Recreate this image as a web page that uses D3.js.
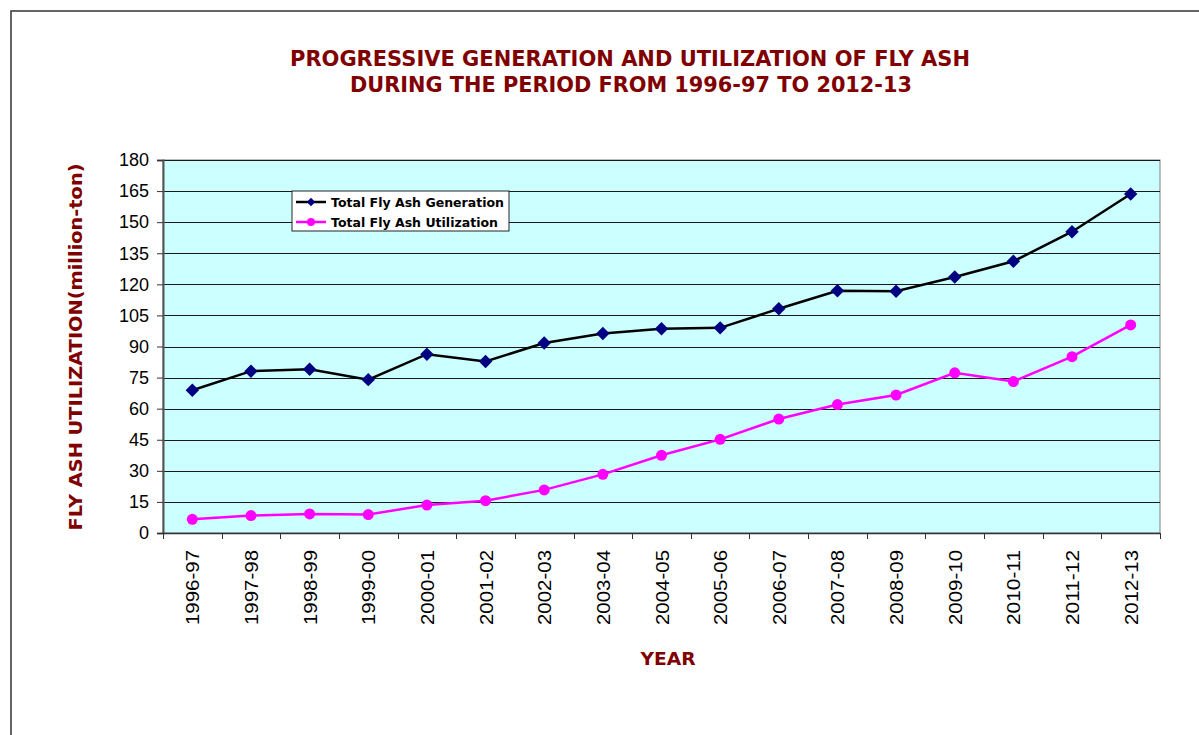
<!DOCTYPE html>
<html>
<head>
<meta charset="utf-8">
<script src="https://cdn.jsdelivr.net/npm/d3@7"></script>
<style>
  body { margin: 0; background: #fff; }
  svg { display: block; }
</style>
</head>
<body>
<svg id="chart" width="1199" height="735"></svg>
<script>
// data
const years = ['1996-97','1997-98','1998-99','1999-00','2000-01','2001-02','2002-03','2003-04',
  '2004-05','2005-06','2006-07','2007-08','2008-09','2009-10','2010-11','2011-12','2012-13'];
const generation = [68.9, 78.1, 79.0, 74.0, 86.3, 82.8, 91.7, 96.3, 98.6, 99.0, 108.2, 116.9, 116.7, 123.5, 131.1, 145.4, 163.6];
const utilization = [6.6, 8.4, 9.2, 8.9, 13.5, 15.6, 20.8, 28.3, 37.5, 45.2, 55.0, 62.0, 66.6, 77.3, 73.1, 85.1, 100.4];
const yTicks = [0, 15, 30, 45, 60, 75, 90, 105, 120, 135, 150, 165, 180];

const svg = d3.select('#chart');
const pLeft = 163, pRight = 1160, pTop = 160, pBottom = 533;
const darkRed = '#800000';

// outer frame
svg.append('path')
  .attr('d', 'M11,735 L11,11 L1199,11')
  .attr('fill', 'none').attr('stroke', '#333').attr('stroke-width', 1.5);

// title
const title = svg.append('text')
  .attr('text-anchor', 'middle')
  .attr('font-family', 'DejaVu Sans')
  .attr('font-weight', 'bold')
  .attr('font-size', 21)
  .attr('fill', darkRed);
title.append('tspan').attr('x', 630).attr('y', 66)
  .attr('textLength', 680).attr('lengthAdjust', 'spacingAndGlyphs')
  .text('PROGRESSIVE GENERATION AND UTILIZATION OF FLY ASH');
title.append('tspan').attr('x', 631).attr('y', 92)
  .attr('textLength', 562).attr('lengthAdjust', 'spacingAndGlyphs')
  .text('DURING THE PERIOD FROM 1996-97 TO 2012-13');

const x = d3.scaleBand().domain(years).range([pLeft, pRight]);
const y = d3.scaleLinear().domain([0, 180]).range([pBottom, pTop]);

// plot background
svg.append('rect')
  .attr('x', pLeft).attr('y', pTop)
  .attr('width', pRight - pLeft).attr('height', pBottom - pTop)
  .attr('fill', '#CCFFFF').attr('stroke', '#808080').attr('stroke-width', 1);

// gridlines
svg.append('g').selectAll('line')
  .data(yTicks.filter(d => d > 0))
  .join('line')
  .attr('x1', pLeft).attr('x2', pRight)
  .attr('y1', d => Math.round(y(d)) + 0.5).attr('y2', d => Math.round(y(d)) + 0.5)
  .attr('stroke', '#1a1a1a').attr('stroke-width', 1);

// y axis
const yAxis = svg.append('g')
  .attr('transform', `translate(${pLeft},0)`)
  .call(d3.axisLeft(y).tickValues(yTicks).tickSize(6).tickPadding(8));
yAxis.select('.domain').attr('stroke', '#555').attr('stroke-width', 2);
yAxis.selectAll('.tick line').attr('stroke', '#333');
yAxis.selectAll('text')
  .attr('font-family', 'Liberation Sans, Arial')
  .attr('font-size', 18).attr('fill', '#000');

// x axis: ticks at category boundaries
const xAxisG = svg.append('g').attr('transform', `translate(0,${pBottom})`);
xAxisG.append('line').attr('x1', pLeft).attr('x2', pRight)
  .attr('y1', 0.5).attr('y2', 0.5).attr('stroke', '#333').attr('stroke-width', 1.5);
xAxisG.selectAll('.xt')
  .data(years.concat(['end']))
  .join('line')
  .attr('class', 'xt')
  .attr('x1', (d, i) => Math.round(pLeft + i * x.step()) + 0.5)
  .attr('x2', (d, i) => Math.round(pLeft + i * x.step()) + 0.5)
  .attr('y1', 0).attr('y2', 6)
  .attr('stroke', '#333');
xAxisG.selectAll('.xl')
  .data(years)
  .join('text')
  .attr('class', 'xl')
  .attr('transform', d => `translate(${x(d) + x.bandwidth() / 2 + 7},17) rotate(-90)`)
  .attr('text-anchor', 'end')
  .attr('font-family', 'Liberation Sans, Arial')
  .attr('font-size', 18)
  .attr('textLength', 75).attr('lengthAdjust', 'spacingAndGlyphs')
  .text(d => d);

// axis titles
svg.append('text')
  .attr('transform', 'translate(82,347) rotate(-90)')
  .attr('text-anchor', 'middle')
  .attr('font-family', 'DejaVu Sans').attr('font-weight', 'bold')
  .attr('font-size', 17).attr('fill', darkRed)
  .attr('textLength', 367).attr('lengthAdjust', 'spacingAndGlyphs')
  .text('FLY ASH UTILIZATION(million-ton)');
svg.append('text')
  .attr('x', 668).attr('y', 665)
  .attr('text-anchor', 'middle')
  .attr('font-family', 'DejaVu Sans').attr('font-weight', 'bold')
  .attr('font-size', 17).attr('fill', darkRed)
  .attr('textLength', 55).attr('lengthAdjust', 'spacingAndGlyphs')
  .text('YEAR');

const cx = d => x(d) + x.bandwidth() / 2;
const line = d3.line().x(d => cx(d.year)).y(d => y(d.v));
const genData = years.map((yr, i) => ({ year: yr, v: generation[i] }));
const utilData = years.map((yr, i) => ({ year: yr, v: utilization[i] }));

svg.append('path').datum(utilData)
  .attr('d', line).attr('fill', 'none')
  .attr('stroke', '#FF00FF').attr('stroke-width', 2.5);
svg.append('g').selectAll('circle').data(utilData).join('circle')
  .attr('cx', d => cx(d.year)).attr('cy', d => y(d.v)).attr('r', 5.5)
  .attr('fill', '#FF00FF');

svg.append('path').datum(genData)
  .attr('d', line).attr('fill', 'none')
  .attr('stroke', '#000').attr('stroke-width', 2.5);
const diamond = d3.symbol().type(d3.symbolDiamond2).size(115);
svg.append('g').selectAll('path').data(genData).join('path')
  .attr('transform', d => `translate(${cx(d.year)},${y(d.v)})`)
  .attr('d', diamond)
  .attr('fill', '#000080');

// legend
const lg = svg.append('g').attr('transform', 'translate(292,191)');
lg.append('rect').attr('width', 217).attr('height', 40)
  .attr('fill', '#fff').attr('stroke', '#222').attr('stroke-width', 1);
const legendItems = [
  { label: 'Total Fly Ash Generation', color: '#000', marker: '#000080', type: 'diamond', w: 173 },
  { label: 'Total Fly Ash Utilization', color: '#FF00FF', marker: '#FF00FF', type: 'circle', w: 167 }
];
legendItems.forEach((it, i) => {
  const yy = 11 + i * 20;
  lg.append('line').attr('x1', 4).attr('x2', 34).attr('y1', yy).attr('y2', yy)
    .attr('stroke', it.color).attr('stroke-width', 2.5);
  if (it.type === 'diamond') {
    lg.append('path').attr('transform', `translate(19,${yy})`)
      .attr('d', d3.symbol().type(d3.symbolDiamond2).size(45)).attr('fill', it.marker);
  } else {
    lg.append('circle').attr('cx', 19).attr('cy', yy).attr('r', 4).attr('fill', it.marker);
  }
  lg.append('text').attr('x', 39).attr('y', yy + 4.5)
    .attr('font-family', 'DejaVu Sans').attr('font-weight', 'bold')
    .attr('font-size', 12.5).attr('fill', '#000')
    .attr('textLength', it.w).attr('lengthAdjust', 'spacingAndGlyphs')
    .text(it.label);
});
</script>
</body>
</html>
